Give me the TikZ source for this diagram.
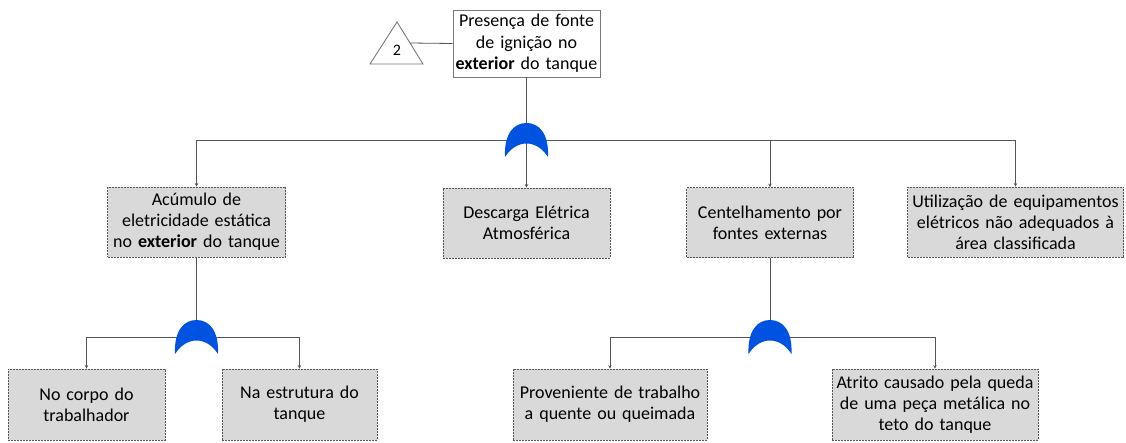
\documentclass[tikz,border=0pt]{standalone}
\usepackage{fontspec}
\setmainfont{Carlito}
\usetikzlibrary{arrows.meta}
\definecolor{gateblue}{RGB}{0,82,224}
\definecolor{boxgray}{RGB}{217,217,217}
\definecolor{linegray}{RGB}{85,85,85}
\definecolor{topgray}{RGB}{120,120,120}
\tikzset{
  evbox/.style={draw=linegray, fill=boxgray, dash pattern=on 2pt off 1pt, line width=0.8pt,
    inner sep=0pt, align=center, font=\fontsize{18}{21}\selectfont},
  topbox/.style={draw=topgray, fill=white, line width=0.9pt, inner sep=0pt, align=center,
    font=\fontsize{18}{21.5}\selectfont},
  conn/.style={draw=linegray, line width=0.8pt},
  tipped/.style={conn, -{Stealth[length=3.5pt,width=3.5pt]}},
  gatefill/.style={fill=gateblue},
}
\newcommand\orgateat[1]{%
  \begin{scope}[shift={(#1)}]
    \fill[gatefill] (-21.5,17) .. controls (-22.5,-6) and (-13,-17) .. (0,-17)
      .. controls (13,-17) and (22.5,-6) .. (21.5,17)
      .. controls (10,-1) and (-10,-1) .. cycle;
  \end{scope}}
\begin{document}
\begin{tikzpicture}[x=1pt,y=-1pt]
  \useasboundingbox (0,0) rectangle (1126,442);
  % top event
  \node[topbox, minimum width=147pt, minimum height=67pt, text width=147pt] (top) at (526.5,43.5)
    {Presença de fonte\\de ignição no\\\textbf{exterior} do tanque};
  \draw[topgray, line width=0.9pt, fill=white] (397,22) -- (423,64) -- (370,64) -- cycle;
  \node[font=\fontsize{16}{18}\selectfont, inner sep=0pt] (tri) at (397,50) {2};
  \coordinate (trir) at (410,43);
  \draw[conn] (trir) -- (top.west);
  % gate coordinates
  \coordinate (g1) at (526.5,140);
  \coordinate (g2) at (196.5,337);
  \coordinate (g3) at (770,337);
  % second row
  \node[evbox, minimum width=178pt, minimum height=70pt, text width=178pt] (acc) at (196.5,222)
    {Acúmulo de\\eletricidade estática\\no \textbf{exterior} do tanque};
  \node[evbox, minimum width=167pt, minimum height=70pt, text width=167pt] (desc) at (526.5,223)
    {Descarga Elétrica\\Atmosférica};
  \node[evbox, minimum width=167pt, minimum height=70pt, text width=167pt] (cent) at (770,222.5)
    {Centelhamento por\\fontes externas};
  \node[evbox, minimum width=216pt, minimum height=70pt, text width=216pt] (util) at (1015.5,222)
    {Utilização de equipamentos\\elétricos não adequados à\\área classificada};
  % third row
  \node[evbox, minimum width=157pt, minimum height=71pt, text width=157pt] (corpo) at (86.5,404.5)
    {No corpo do\\trabalhador};
  \node[evbox, minimum width=155pt, minimum height=71pt, text width=155pt] (estr) at (299.5,404.5)
    {Na estrutura do\\tanque};
  \node[evbox, minimum width=194pt, minimum height=71pt, text width=194pt] (prov) at (610,404.5)
    {Proveniente de trabalho\\a quente ou queimada};
  \node[evbox, minimum width=206pt, minimum height=71pt, text width=206pt] (atr) at (935,404.5)
    {Atrito causado pela queda\\de uma peça metálica no\\teto do tanque};
  % connectors
  \draw[tipped] (top.south) -- (desc.north);
  \draw[tipped] (g1) -| (acc.north);
  \draw[tipped] (g1) -| (cent.north);
  \draw[tipped] (g1) -| (util.north);
  \draw[conn] (acc.south) -- (g2);
  \draw[tipped] (g2) -| (corpo.north);
  \draw[tipped] (g2) -| (estr.north);
  \draw[conn] (cent.south) -- (g3);
  \draw[tipped] (g3) -| (prov.north);
  \draw[tipped] (g3) -| (atr.north);
  % gates
  \orgateat{g1}
  \orgateat{g2}
  \orgateat{g3}
\end{tikzpicture}
\end{document}
